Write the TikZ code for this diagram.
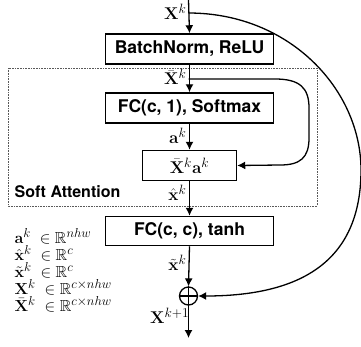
\RequirePackage{fix-cm}
\documentclass[tikz,border=0pt]{standalone}
\usepackage{amsmath,amssymb}
\usepackage[no-math]{fontspec}
\setmainfont{TeX Gyre Heros}
\DeclareMathSizes{16}{16}{13}{8}
\DeclareMathSizes{17}{17}{13.5}{9}
\usetikzlibrary{arrows.meta}
\begin{document}
\begin{tikzpicture}[x=1pt,y=-1pt,
  line width=1.3pt,
  arr/.style={-{Latex[length=8pt,width=8pt]}},
  box/.style={draw,line width=1.5pt,minimum height=30pt,inner sep=0pt,font=\fontsize{17.5}{20}\selectfont\bfseries},
  lab/.style={anchor=east,inner sep=1pt,font=\fontsize{17}{19}\selectfont},
  leg/.style={anchor=north west,inner sep=0pt,align=left,font=\fontsize{16}{17}\selectfont}]
\useasboundingbox (0,0) rectangle (361,346);
\node[box,minimum width=168pt] (bn) at (189.5,49) {BatchNorm, ReLU};
\node[box,minimum width=168pt] (fc1) at (189.5,108) {FC(c, 1), Softmax};
\node[box,minimum width=94pt,font=\fontsize{17}{19}\selectfont] (xa) at (189.5,165.5) {$\bar{\mathbf X}^k\mathbf a^k$};
\node[box,minimum width=168pt,minimum height=29pt] (fc2) at (189.5,231) {FC(c, c), tanh};
\node[draw,circle,line width=1.3pt,minimum size=18pt,inner sep=0pt] (plus) at (188.5,296) {};
\draw (plus.west) -- (plus.east) (plus.north) -- (plus.south);
\coordinate (top) at (188.5,0);
\coordinate (bot) at (188.5,338);
\coordinate (skip) at (188.5,13);
\coordinate (skipin) at (188.5,79);
\draw[densely dotted,line width=0.6pt,gray!70!black] (8,68) rectangle (317,206);
\node[anchor=west,inner sep=0pt,font=\fontsize{16}{18}\selectfont\bfseries] (sa) at (14,192) {Soft Attention};
\draw[arr] (top) -- (bn.north);
\draw[arr] (bn.south) -- (fc1.north);
\draw[arr] (fc1.south) -- (xa.north);
\draw[arr] (xa.south) -- (fc2.north);
\draw[arr] (fc2.south) -- (plus.north);
\draw[arr] (plus.south) -- (bot);
\draw[arr] (skip) .. controls (290,13) and (361,90) .. (361,170) .. controls (361,262) and (300,296) .. (plus.east);
\draw[arr] (skipin) -- (275,79) .. controls (300,79) and (309,88) .. (309,108) -- (309,138) .. controls (309,158) and (300,165) .. (280,165) -- (xa.east);
\node[lab] (l1) at (188,12) {$\mathbf X^k$};
\node[lab] (l2) at (188,77) {$\bar{\mathbf X}^k$};
\node[lab] (l3) at (188,136) {$\mathbf a^k$};
\node[lab] (l4) at (188,193) {$\hat{\mathbf x}^k$};
\node[lab] (l5) at (188,263) {$\tilde{\mathbf x}^k$};
\node[lab] (l6) at (191,316) {$\mathbf X^{k+1}$};
\node[leg] (g) at (14,228) {$\mathbf a^k\;\in\mathbb R^{nhw}$\\
$\hat{\mathbf x}^k\;\in\mathbb R^{c}$\\
$\tilde{\mathbf x}^k\;\in\mathbb R^{c}$\\
$\mathbf X^k\;\in\mathbb R^{c\times nhw}$\\
$\bar{\mathbf X}^k\;\in\mathbb R^{c\times nhw}$};
\end{tikzpicture}
\end{document}
